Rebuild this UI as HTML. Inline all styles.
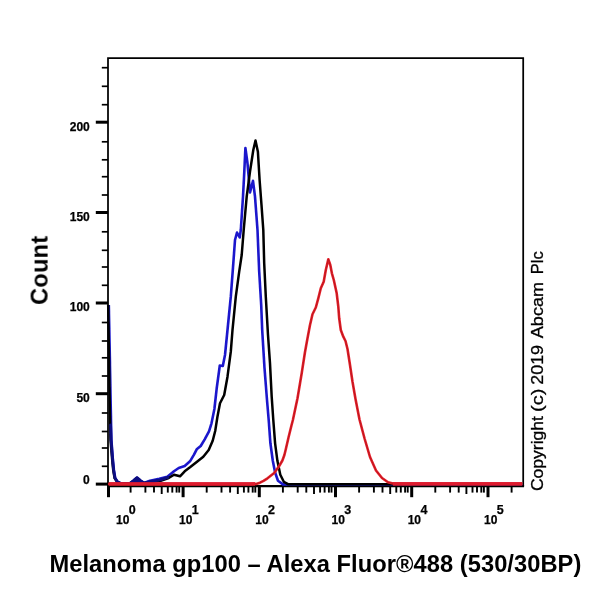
<!DOCTYPE html>
<html><head><meta charset="utf-8"><title>Melanoma gp100 flow cytometry</title>
<style>
html,body{margin:0;padding:0;background:#fff;}
body{width:600px;height:600px;overflow:hidden;position:relative;font-family:"Liberation Sans",Arial,sans-serif;}
svg{position:absolute;left:0;top:0;display:block;}
text{font-family:"Liberation Sans",Arial,sans-serif;fill:#000;}
.tk{font-size:12px;font-weight:bold;stroke:#000;stroke-width:0.25px;}
.ex{font-size:12.5px;font-weight:bold;stroke:#000;stroke-width:0.25px;}
</style></head><body>
<svg width="600" height="600" viewBox="0 0 600 600">
<rect x="0" y="0" width="600" height="600" fill="#fff"/>
<defs><filter id="soft" x="-2%" y="-2%" width="104%" height="104%"><feGaussianBlur stdDeviation="0.45"/></filter></defs>
<g filter="url(#soft)">
<path d="M108.0,486.1 L108.0,58.0 L523.2,58.0 L523.2,486.1" fill="none" stroke="#000" stroke-width="1.75" stroke-linejoin="miter"/>
<line x1="107.0" y1="486.1" x2="524.1" y2="486.1" stroke="#000" stroke-width="2.3"/>
<polyline points="108.8,305.0 109.7,350.0 110.5,395.0 111.4,440.0 112.9,460.0 113.9,470.0 115.2,478.0 117.5,481.6 120.5,483.1 130.0,483.3 134.0,480.3 137.0,477.6 140.0,480.3 144.0,483.0 150.0,480.7 159.3,478.7 167.3,476.7 174.0,471.3 178.7,468.0 184.7,466.0 190.0,461.3 194.0,454.7 196.7,449.3 200.7,446.0 204.7,439.3 209.0,431.3 211.5,423.3 214.4,409.0 216.7,388.3 219.2,370.0 219.8,365.5 222.8,366.0 224.0,360.0 225.0,355.0 227.5,330.0 230.8,296.7 233.3,263.3 235.0,240.0 237.0,232.5 239.7,237.5 240.8,230.0 243.0,196.7 244.3,171.7 245.4,148.0 247.5,163.3 250.0,192.5 253.0,180.8 255.0,196.7 257.5,230.0 259.2,271.7 261.2,305.0 262.2,330.0 262.8,340.0 264.5,368.0 267.0,400.0 268.7,420.0 270.4,443.3 272.8,460.8 275.1,472.5 278.0,480.7 283.0,484.4 522.2,484.4" fill="none" stroke="#1a18cc" stroke-width="2.6" stroke-linejoin="round"/>
<polyline points="108.2,305.0 108.9,350.0 109.6,395.0 110.5,440.0 112.2,460.0 113.2,470.0 114.6,478.0 117.0,481.8 120.0,483.3 130.0,483.5 134.0,480.8 137.0,478.2 140.0,480.8 144.0,483.2 150.0,482.0 160.7,480.7 168.7,478.0 174.0,474.7 180.0,476.3 184.7,471.3 190.0,467.3 196.7,462.0 203.3,456.7 208.7,450.0 212.7,440.7 215.2,431.0 217.4,417.0 220.0,403.3 224.2,395.0 227.5,376.7 230.8,351.7 232.5,330.0 235.8,296.7 239.2,271.7 241.7,255.0 243.7,230.0 246.7,196.7 250.0,171.7 253.3,150.0 255.5,140.5 257.9,151.7 259.6,180.0 261.5,205.0 263.3,230.0 264.2,263.3 265.8,296.7 268.0,335.0 270.0,363.3 271.7,396.7 273.3,420.0 275.1,443.3 277.4,460.8 280.3,474.8 283.8,481.8 288.5,484.3 522.2,484.3" fill="none" stroke="#000" stroke-width="2.5" stroke-linejoin="round"/>
<polyline points="108.0,484.0 250.0,484.3 256.0,483.9 260.0,482.7 263.5,480.9 267.5,478.3 274.2,473.0 279.2,466.0 282.4,460.5 284.4,455.0 285.8,449.2 288.5,437.5 291.4,425.8 292.9,420.0 297.5,398.3 301.7,373.3 305.0,352.0 307.5,338.3 310.0,325.0 312.5,314.2 315.8,307.5 318.3,298.3 320.8,288.3 323.7,281.7 325.8,270.0 328.3,259.2 330.3,265.0 331.9,273.3 333.8,280.0 336.7,293.3 338.3,306.7 339.2,318.3 340.8,330.0 343.3,336.7 345.5,341.0 347.5,349.0 350.0,365.0 352.5,381.7 355.5,399.0 359.5,419.5 364.7,439.0 370.0,457.0 376.0,470.5 382.0,478.0 388.0,482.2 394.0,483.7 522.2,483.7" fill="none" stroke="#e6202a" stroke-width="2.6" stroke-linejoin="round"/>
<polyline points="108.0,484.0 250.0,484.3 256.0,483.9 260.0,482.7 263.5,480.9 267.5,478.3 274.2,473.0 279.2,466.0 282.4,460.5 284.4,455.0 285.8,449.2 288.5,437.5 291.4,425.8 292.9,420.0 297.5,398.3 301.7,373.3 305.0,352.0 307.5,338.3 310.0,325.0 312.5,314.2 315.8,307.5 318.3,298.3 320.8,288.3 323.7,281.7 325.8,270.0 328.3,259.2 330.3,265.0 331.9,273.3 333.8,280.0 336.7,293.3 338.3,306.7 339.2,318.3 340.8,330.0 343.3,336.7 345.5,341.0 347.5,349.0 350.0,365.0 352.5,381.7 355.5,399.0 359.5,419.5 364.7,439.0 370.0,457.0 376.0,470.5 382.0,478.0 388.0,482.2 394.0,483.7 522.2,483.7" fill="none" stroke="#b8161e" stroke-width="0.9" stroke-linejoin="round"/>
<polyline points="110.6,425.0 111.1,440.0 112.6,460.0 113.6,470.0 114.9,478.0 117.3,481.7 120.3,483.2 130.0,483.3 133.5,480.6 137.0,477.6 140.5,480.6 144.0,483.0 150.0,481.6 160.0,479.9 168.0,477.3" fill="none" stroke="#0e0e80" stroke-width="2.8" stroke-linejoin="round" stroke-linecap="round"/>
<polygon points="130.5,483.5 137,477.8 143.5,483.5" fill="#0e0e80"/>
<rect x="109" y="482.1" width="146" height="3.6" fill="#de1a2e"/>
<rect x="393" y="482.1" width="129.3" height="3.6" fill="#de1a2e"/>
<line x1="95.8" y1="122.2" x2="108.0" y2="122.2" stroke="#000" stroke-width="3"/>
<line x1="95.8" y1="212.5" x2="108.0" y2="212.5" stroke="#000" stroke-width="3"/>
<line x1="95.8" y1="303.0" x2="108.0" y2="303.0" stroke="#000" stroke-width="3"/>
<line x1="95.8" y1="393.7" x2="108.0" y2="393.7" stroke="#000" stroke-width="3"/>
<line x1="95.8" y1="484.1" x2="108.0" y2="484.1" stroke="#000" stroke-width="3"/>
<line x1="101.8" y1="67.7" x2="108.0" y2="67.7" stroke="#000" stroke-width="1.7"/>
<line x1="101.8" y1="86.3" x2="108.0" y2="86.3" stroke="#000" stroke-width="1.7"/>
<line x1="101.8" y1="104.7" x2="108.0" y2="104.7" stroke="#000" stroke-width="1.7"/>
<line x1="101.8" y1="141.8" x2="108.0" y2="141.8" stroke="#000" stroke-width="1.7"/>
<line x1="101.8" y1="159.8" x2="108.0" y2="159.8" stroke="#000" stroke-width="1.7"/>
<line x1="101.8" y1="176.7" x2="108.0" y2="176.7" stroke="#000" stroke-width="1.7"/>
<line x1="101.8" y1="195.0" x2="108.0" y2="195.0" stroke="#000" stroke-width="1.7"/>
<line x1="101.8" y1="231.8" x2="108.0" y2="231.8" stroke="#000" stroke-width="1.7"/>
<line x1="101.8" y1="250.3" x2="108.0" y2="250.3" stroke="#000" stroke-width="1.7"/>
<line x1="101.8" y1="267.0" x2="108.0" y2="267.0" stroke="#000" stroke-width="1.7"/>
<line x1="101.8" y1="285.3" x2="108.0" y2="285.3" stroke="#000" stroke-width="1.7"/>
<line x1="101.8" y1="322.5" x2="108.0" y2="322.5" stroke="#000" stroke-width="1.7"/>
<line x1="101.8" y1="341.0" x2="108.0" y2="341.0" stroke="#000" stroke-width="1.7"/>
<line x1="101.8" y1="357.8" x2="108.0" y2="357.8" stroke="#000" stroke-width="1.7"/>
<line x1="101.8" y1="376.0" x2="108.0" y2="376.0" stroke="#000" stroke-width="1.7"/>
<line x1="101.8" y1="413.0" x2="108.0" y2="413.0" stroke="#000" stroke-width="1.7"/>
<line x1="101.8" y1="431.5" x2="108.0" y2="431.5" stroke="#000" stroke-width="1.7"/>
<line x1="101.8" y1="448.0" x2="108.0" y2="448.0" stroke="#000" stroke-width="1.7"/>
<line x1="101.8" y1="466.3" x2="108.0" y2="466.3" stroke="#000" stroke-width="1.7"/>
<text class="tk" x="89.8" y="130.8" text-anchor="end">200</text>
<text class="tk" x="89.8" y="221.1" text-anchor="end">150</text>
<text class="tk" x="89.8" y="311.2" text-anchor="end">100</text>
<text class="tk" x="89.8" y="401.9" text-anchor="end">50</text>
<text class="tk" x="89.8" y="484" text-anchor="end">0</text>
<line x1="108.5" y1="486.1" x2="108.5" y2="497.2" stroke="#000" stroke-width="3"/>
<line x1="130.6" y1="486.1" x2="130.6" y2="492.6" stroke="#000" stroke-width="1.9"/>
<line x1="145.4" y1="486.1" x2="145.4" y2="492.6" stroke="#000" stroke-width="1.9"/>
<line x1="154.0" y1="486.1" x2="154.0" y2="492.6" stroke="#000" stroke-width="1.9"/>
<line x1="161.7" y1="486.1" x2="161.7" y2="494.0" stroke="#000" stroke-width="1.9"/>
<line x1="167.8" y1="486.1" x2="167.8" y2="492.6" stroke="#000" stroke-width="1.9"/>
<line x1="172.3" y1="486.1" x2="172.3" y2="492.6" stroke="#000" stroke-width="1.9"/>
<line x1="176.6" y1="486.1" x2="176.6" y2="492.6" stroke="#000" stroke-width="1.9"/>
<line x1="179.2" y1="486.1" x2="179.2" y2="492.6" stroke="#000" stroke-width="1.9"/>
<line x1="183.1" y1="486.1" x2="183.1" y2="497.2" stroke="#000" stroke-width="3"/>
<line x1="206.7" y1="486.1" x2="206.7" y2="492.6" stroke="#000" stroke-width="1.9"/>
<line x1="221.5" y1="486.1" x2="221.5" y2="492.6" stroke="#000" stroke-width="1.9"/>
<line x1="230.1" y1="486.1" x2="230.1" y2="492.6" stroke="#000" stroke-width="1.9"/>
<line x1="237.8" y1="486.1" x2="237.8" y2="494.0" stroke="#000" stroke-width="1.9"/>
<line x1="243.9" y1="486.1" x2="243.9" y2="492.6" stroke="#000" stroke-width="1.9"/>
<line x1="248.4" y1="486.1" x2="248.4" y2="492.6" stroke="#000" stroke-width="1.9"/>
<line x1="252.7" y1="486.1" x2="252.7" y2="492.6" stroke="#000" stroke-width="1.9"/>
<line x1="255.3" y1="486.1" x2="255.3" y2="492.6" stroke="#000" stroke-width="1.9"/>
<line x1="259.3" y1="486.1" x2="259.3" y2="497.2" stroke="#000" stroke-width="3"/>
<line x1="282.9" y1="486.1" x2="282.9" y2="492.6" stroke="#000" stroke-width="1.9"/>
<line x1="297.7" y1="486.1" x2="297.7" y2="492.6" stroke="#000" stroke-width="1.9"/>
<line x1="306.3" y1="486.1" x2="306.3" y2="492.6" stroke="#000" stroke-width="1.9"/>
<line x1="314.0" y1="486.1" x2="314.0" y2="494.0" stroke="#000" stroke-width="1.9"/>
<line x1="320.1" y1="486.1" x2="320.1" y2="492.6" stroke="#000" stroke-width="1.9"/>
<line x1="324.6" y1="486.1" x2="324.6" y2="492.6" stroke="#000" stroke-width="1.9"/>
<line x1="328.9" y1="486.1" x2="328.9" y2="492.6" stroke="#000" stroke-width="1.9"/>
<line x1="331.5" y1="486.1" x2="331.5" y2="492.6" stroke="#000" stroke-width="1.9"/>
<line x1="335.5" y1="486.1" x2="335.5" y2="497.2" stroke="#000" stroke-width="3"/>
<line x1="359.1" y1="486.1" x2="359.1" y2="492.6" stroke="#000" stroke-width="1.9"/>
<line x1="373.9" y1="486.1" x2="373.9" y2="492.6" stroke="#000" stroke-width="1.9"/>
<line x1="382.5" y1="486.1" x2="382.5" y2="492.6" stroke="#000" stroke-width="1.9"/>
<line x1="390.2" y1="486.1" x2="390.2" y2="494.0" stroke="#000" stroke-width="1.9"/>
<line x1="396.3" y1="486.1" x2="396.3" y2="492.6" stroke="#000" stroke-width="1.9"/>
<line x1="400.8" y1="486.1" x2="400.8" y2="492.6" stroke="#000" stroke-width="1.9"/>
<line x1="405.1" y1="486.1" x2="405.1" y2="492.6" stroke="#000" stroke-width="1.9"/>
<line x1="407.7" y1="486.1" x2="407.7" y2="492.6" stroke="#000" stroke-width="1.9"/>
<line x1="411.7" y1="486.1" x2="411.7" y2="497.2" stroke="#000" stroke-width="3"/>
<line x1="435.3" y1="486.1" x2="435.3" y2="492.6" stroke="#000" stroke-width="1.9"/>
<line x1="450.1" y1="486.1" x2="450.1" y2="492.6" stroke="#000" stroke-width="1.9"/>
<line x1="458.7" y1="486.1" x2="458.7" y2="492.6" stroke="#000" stroke-width="1.9"/>
<line x1="466.4" y1="486.1" x2="466.4" y2="494.0" stroke="#000" stroke-width="1.9"/>
<line x1="472.5" y1="486.1" x2="472.5" y2="492.6" stroke="#000" stroke-width="1.9"/>
<line x1="477.0" y1="486.1" x2="477.0" y2="492.6" stroke="#000" stroke-width="1.9"/>
<line x1="481.3" y1="486.1" x2="481.3" y2="492.6" stroke="#000" stroke-width="1.9"/>
<line x1="483.9" y1="486.1" x2="483.9" y2="492.6" stroke="#000" stroke-width="1.9"/>
<line x1="488.0" y1="486.1" x2="488.0" y2="497.2" stroke="#000" stroke-width="3"/>
<line x1="511.6" y1="486.1" x2="511.6" y2="492.6" stroke="#000" stroke-width="1.9"/>
<text class="tk" x="116.0" y="524.4">10</text><text class="ex" x="128.7" y="514.2">0</text>
<text class="tk" x="179.1" y="524.4">10</text><text class="ex" x="191.8" y="514.2">1</text>
<text class="tk" x="255.3" y="524.4">10</text><text class="ex" x="268.0" y="514.2">2</text>
<text class="tk" x="331.5" y="524.4">10</text><text class="ex" x="344.2" y="514.2">3</text>
<text class="tk" x="407.7" y="524.4">10</text><text class="ex" x="420.4" y="514.2">4</text>
<text class="tk" x="484.0" y="524.4">10</text><text class="ex" x="496.7" y="514.2">5</text>
<text transform="translate(47.6,304.9) rotate(-90)" font-size="23.5" font-weight="bold" textLength="69" lengthAdjust="spacing">Count</text>
<text transform="translate(543.2,490.6) rotate(-90)" font-size="16.4" stroke="#000" stroke-width="0.3"><tspan x="-0.5" textLength="75.0" lengthAdjust="spacingAndGlyphs">Copyright</tspan> <tspan x="78.7" textLength="23.3" lengthAdjust="spacingAndGlyphs">(c)</tspan> <tspan x="105.8" textLength="39.9" lengthAdjust="spacingAndGlyphs">2019</tspan> <tspan x="152.4" textLength="56.2" lengthAdjust="spacingAndGlyphs">Abcam</tspan> <tspan x="216.4" textLength="22.9" lengthAdjust="spacingAndGlyphs">Plc</tspan> </text>
<text x="49.5" y="572" font-size="23.7" font-weight="bold" textLength="531.8" lengthAdjust="spacing">Melanoma gp100 – Alexa Fluor®488 (530/30BP)</text>
</g>
</svg>
</body></html>
